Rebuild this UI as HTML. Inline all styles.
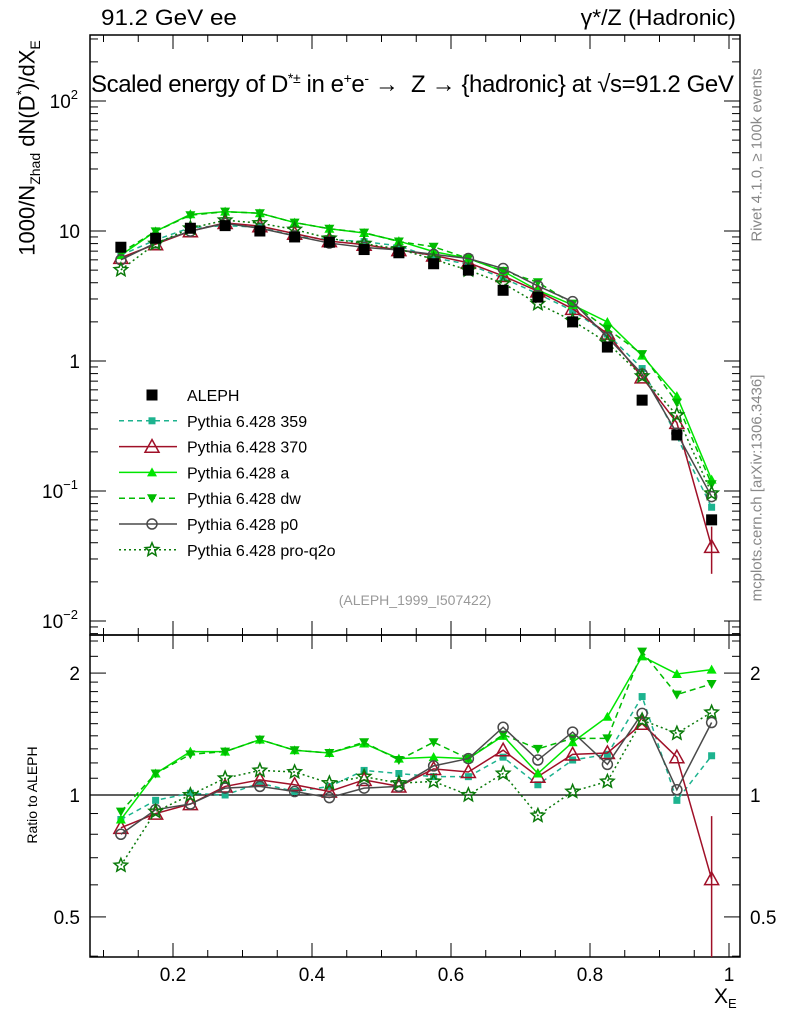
<!DOCTYPE html>
<html><head><meta charset="utf-8"><style>
body{margin:0;background:#fff;}
svg{display:block;font-family:"Liberation Sans",sans-serif;}
</style></head><body>
<svg id="c" width="786" height="1024" viewBox="0 0 786 1024"></svg>
<script>
const xCenters=[0.125,0.175,0.225,0.275,0.325,0.375,0.425,0.475,0.525,0.575,0.625,0.675,0.725,0.775,0.825,0.875,0.925,0.975];
const alephVals=[7.5,8.8,10.5,11,10,9,8.2,7.2,6.8,5.6,5.0,3.5,3.1,2.0,1.28,0.5,0.27,0.06];
const ratio359=[0.87,0.97,1.01,1.0,1.07,1.02,1.05,1.15,1.13,1.11,1.11,1.24,1.06,1.22,1.26,1.75,0.97,1.25];
const ratio370=[0.83,0.90,0.95,1.05,1.09,1.06,1.02,1.09,1.05,1.16,1.14,1.29,1.11,1.26,1.27,1.50,1.24,0.62];
const ratioA=[0.87,1.13,1.28,1.28,1.37,1.29,1.27,1.34,1.23,1.24,1.23,1.40,1.13,1.35,1.56,2.20,1.99,2.04];
const ratioDw=[0.91,1.13,1.26,1.28,1.37,1.29,1.27,1.35,1.22,1.35,1.23,1.41,1.30,1.38,1.38,2.26,1.77,1.88];
const ratioP0=[0.80,0.92,0.95,1.04,1.05,1.02,0.985,1.04,1.05,1.18,1.23,1.47,1.22,1.43,1.19,1.59,1.03,1.51];
const ratioQ2o=[0.67,0.91,1.0,1.10,1.15,1.14,1.07,1.11,1.07,1.08,1.0,1.13,0.89,1.02,1.08,1.53,1.42,1.60];
const xTicks=[0.2,0.4,0.6,0.8,1];
const xTickLabels=["0.2","0.4","0.6","0.8","1"];

const svg=document.getElementById('c');
const NS='http://www.w3.org/2000/svg';
function mk(tag,attrs,parent){const e=document.createElementNS(NS,tag);for(const k in attrs)e.setAttribute(k,attrs[k]);(parent||svg).appendChild(e);return e;}
const L=90,R=740,T1=35,B1=635,T2=635,B2=957;
const X=v=>173+(v-0.2)*695;
const Y=v=>361-130*Math.log10(v);
const YR=r=>795-405*Math.log10(r);

const f1=mk('rect',{x:L,y:T1,width:R-L,height:B1-T1,fill:'none',stroke:'#000','stroke-width':1.5});

const f2=mk('rect',{x:L,y:T2,width:R-L,height:B2-T2,fill:'none',stroke:'#000','stroke-width':1.5});


for(let v=0.1;v<=1.0001;v+=0.05){
  const x=X(v);const major=Math.abs(v*5-Math.round(v*5))<1e-6;const len=major?14:7;
  [[T1,1],[B1,-1],[T2,1],[B2,-1]].forEach(([y,s])=>mk('line',{x1:x,x2:x,y1:y,y2:y+s*len,stroke:'#000'}));
}
xTicks.forEach((v,i)=>{const t=mk('text',{x:X(v),y:981,'font-size':19,'text-anchor':'middle'});t.textContent=xTickLabels[i];
});

for(let d=-3;d<=2;d++){for(let m=1;m<10;m++){const v=m*Math.pow(10,d);const y=Y(v);if(y<T1||y>B1)continue;const len=m==1?16:8;
mk('line',{x1:L,x2:L+len,y1:y,y2:y,stroke:'#000'});mk('line',{x1:R,x2:R-len,y1:y,y2:y,stroke:'#000'});}}
const yl=[[100,"10","2"],[10,"10",""],[1,"1",""],[0.1,"10","−1"],[0.01,"10","−2"]];
yl.forEach(([v,b,e])=>{const t=mk('text',{x:e?78:80,y:Y(v)+7,'font-size':19,'text-anchor':'end'});t.textContent=b;
if(e){const s=mk('tspan',{dy:-9,'font-size':13},t);s.textContent=e;}
});

[0.4,0.5,0.6,0.7,0.8,0.9,1,1.1,1.2,1.3,1.4,1.5,1.6,1.7,1.8,1.9,2,2.2,2.4].forEach(r=>{const y=YR(r);if(y<T2||y>B2)return;const len=(r==0.5||r==1||r==2)?16:8;
mk('line',{x1:L,x2:L+len,y1:y,y2:y,stroke:'#000'});mk('line',{x1:R,x2:R-len,y1:y,y2:y,stroke:'#000'});});
[[2,"2"],[1,"1"],[0.5,"0.5"]].forEach(([r,s])=>{
const a=mk('text',{x:80,y:YR(r)+7,'font-size':19,'text-anchor':'end'});a.textContent=s;
const b=mk('text',{x:750,y:YR(r)+7,'font-size':19}); b.textContent=s;});
mk('line',{x1:L,x2:R,y1:YR(1),y2:YR(1),stroke:'#000','stroke-width':1.2});

function marker(g,type,x,y,col,sz){
  if(type=='sq')return mk('rect',{x:x-sz,y:y-sz,width:2*sz,height:2*sz,fill:col},g);
  if(type=='tri')return mk('polygon',{points:`${x},${y-sz} ${x-sz},${y+sz*0.8} ${x+sz},${y+sz*0.8}`,fill:col},g);
  if(type=='otri')return mk('polygon',{points:`${x},${y-sz} ${x-sz},${y+sz*0.8} ${x+sz},${y+sz*0.8}`,fill:'none',stroke:col,'stroke-width':1.5},g);
  if(type=='dtri')return mk('polygon',{points:`${x},${y+sz} ${x-sz},${y-sz*0.8} ${x+sz},${y-sz*0.8}`,fill:col},g);
  if(type=='oc')return mk('circle',{cx:x,cy:y,r:sz,fill:'none',stroke:col,'stroke-width':1.5},g);
  if(type=='star'){let p=[];for(let i=0;i<10;i++){const a=-Math.PI/2+i*Math.PI/5;const rr=i%2?sz*0.45:sz;p.push((x+rr*Math.cos(a)).toFixed(1)+','+(y+rr*Math.sin(a)).toFixed(1));}
    return mk('polygon',{points:p.join(' '),fill:'none',stroke:col,'stroke-width':1.5},g);}
}
const series=[
 {name:'359',label:'Pythia 6.428 359',r:ratio359,col:'#1db38f',dash:'5,4',m:'sq',sz:3.5},
 {name:'370',label:'Pythia 6.428 370',r:ratio370,col:'#a01028',dash:'',m:'otri',sz:7},
 {name:'a',label:'Pythia 6.428 a',r:ratioA,col:'#00e600',dash:'',m:'tri',sz:5},
 {name:'dw',label:'Pythia 6.428 dw',r:ratioDw,col:'#00bb00',dash:'6,4',m:'dtri',sz:5},
 {name:'p0',label:'Pythia 6.428 p0',r:ratioP0,col:'#4a4a4a',dash:'',m:'oc',sz:5},
 {name:'pro-q2o',label:'Pythia 6.428 pro-q2o',r:ratioQ2o,col:'#0a7a0a',dash:'2,3',m:'star',sz:7}
];
series.forEach(s=>{
  const vals=s.r.map((r,i)=>r*alephVals[i]);
  const g=mk('g',{});
  const g2=mk('g',{});
  mk('polyline',{points:vals.map((v,i)=>X(xCenters[i])+','+Y(v)).join(' '),fill:'none',stroke:s.col,'stroke-width':1.5,'stroke-dasharray':s.dash},g);
  mk('polyline',{points:s.r.map((r,i)=>X(xCenters[i])+','+YR(r)).join(' '),fill:'none',stroke:s.col,'stroke-width':1.5,'stroke-dasharray':s.dash},g2);
  vals.forEach((v,i)=>{const p=marker(g,s.m,X(xCenters[i]),Y(v),s.col,s.sz);});
  s.r.forEach((r,i)=>{const p=marker(g2,s.m,X(xCenters[i]),YR(r),s.col,s.sz);});
});
const eb=mk('line',{x1:X(xCenters[17]),x2:X(xCenters[17]),y1:YR(ratio370[17]*1.43),y2:B2,stroke:'#a01028','stroke-width':1.5});

const eb2=mk('line',{x1:X(xCenters[17]),x2:X(xCenters[17]),y1:Y(ratio370[17]*alephVals[17]*1.43),y2:Y(ratio370[17]*alephVals[17]*0.62),stroke:'#a01028','stroke-width':1.5});

const ga=mk('g',{});
alephVals.forEach((v,i)=>{const p=marker(ga,'sq',X(xCenters[i]),Y(v),'#000',5.5);});

const lg=mk('g',{});
const ly0=395,ldy=25.8;
const le0=mk('g',{},lg);
marker(le0,'sq',152,ly0,'#000',5.5);
let tt=mk('text',{x:187,y:ly0+6,'font-size':16},le0);tt.textContent='ALEPH';
series.forEach((s,i)=>{const y=ly0+ldy*(i+1);
 const e=mk('g',{},lg);
 mk('line',{x1:119,x2:177,y1:y,y2:y,stroke:s.col,'stroke-width':1.5,'stroke-dasharray':s.dash},e);
 marker(e,s.m,152,y,s.col,s.sz);
 const t=mk('text',{x:187,y:y+6,'font-size':16},e);t.textContent=s.label;});
</script>
<div style="position:absolute;left:0;top:0;width:786px;height:1024px;pointer-events:none;font-family:'Liberation Sans',sans-serif;">
<div style="position:absolute;left:101px;top:5px;font-size:22px;transform:scaleX(1.1);transform-origin:left;">91.2 GeV ee</div>
<div style="position:absolute;right:50px;top:5px;font-size:22px;transform:scaleX(1.05);transform-origin:right;">γ*/Z (Hadronic)</div>
<div style="position:absolute;left:91px;top:70px;font-size:24px;white-space:nowrap;letter-spacing:-0.4px;">Scaled energy of D<sup style="font-size:14px">*±</sup> in e<sup style="font-size:14px">+</sup>e<sup style="font-size:14px">-</sup> → &nbsp;Z → {hadronic} at √s=91.2 GeV</div>
<div style="position:absolute;left:28px;top:148px;font-size:22px;white-space:nowrap;transform:translate(-50%,-50%) rotate(-90deg);">1000/N<sub style="font-size:14px">Zhad</sub> dN(D<sup style="font-size:14px">*</sup>)/dX<sub style="font-size:14px">E</sub></div>
<div style="position:absolute;left:32px;top:795px;font-size:14px;white-space:nowrap;transform:translate(-50%,-50%) rotate(-90deg);">Ratio to ALEPH</div>
<div style="position:absolute;left:757px;top:155px;font-size:15px;color:#888;white-space:nowrap;transform:translate(-50%,-50%) rotate(-90deg);">Rivet 4.1.0, ≥ 100k events</div>
<div style="position:absolute;left:757px;top:488px;font-size:15px;color:#888;white-space:nowrap;transform:translate(-50%,-50%) rotate(-90deg);">mcplots.cern.ch [arXiv:1306.3436]</div>
<div style="position:absolute;left:415px;top:600px;font-size:14px;color:#999;transform:translate(-50%,-50%);white-space:nowrap;">(ALEPH_1999_I507422)</div>
<div style="position:absolute;left:714px;top:985px;font-size:21px;">X<sub style="font-size:13px">E</sub></div>
</div>
</body></html>
